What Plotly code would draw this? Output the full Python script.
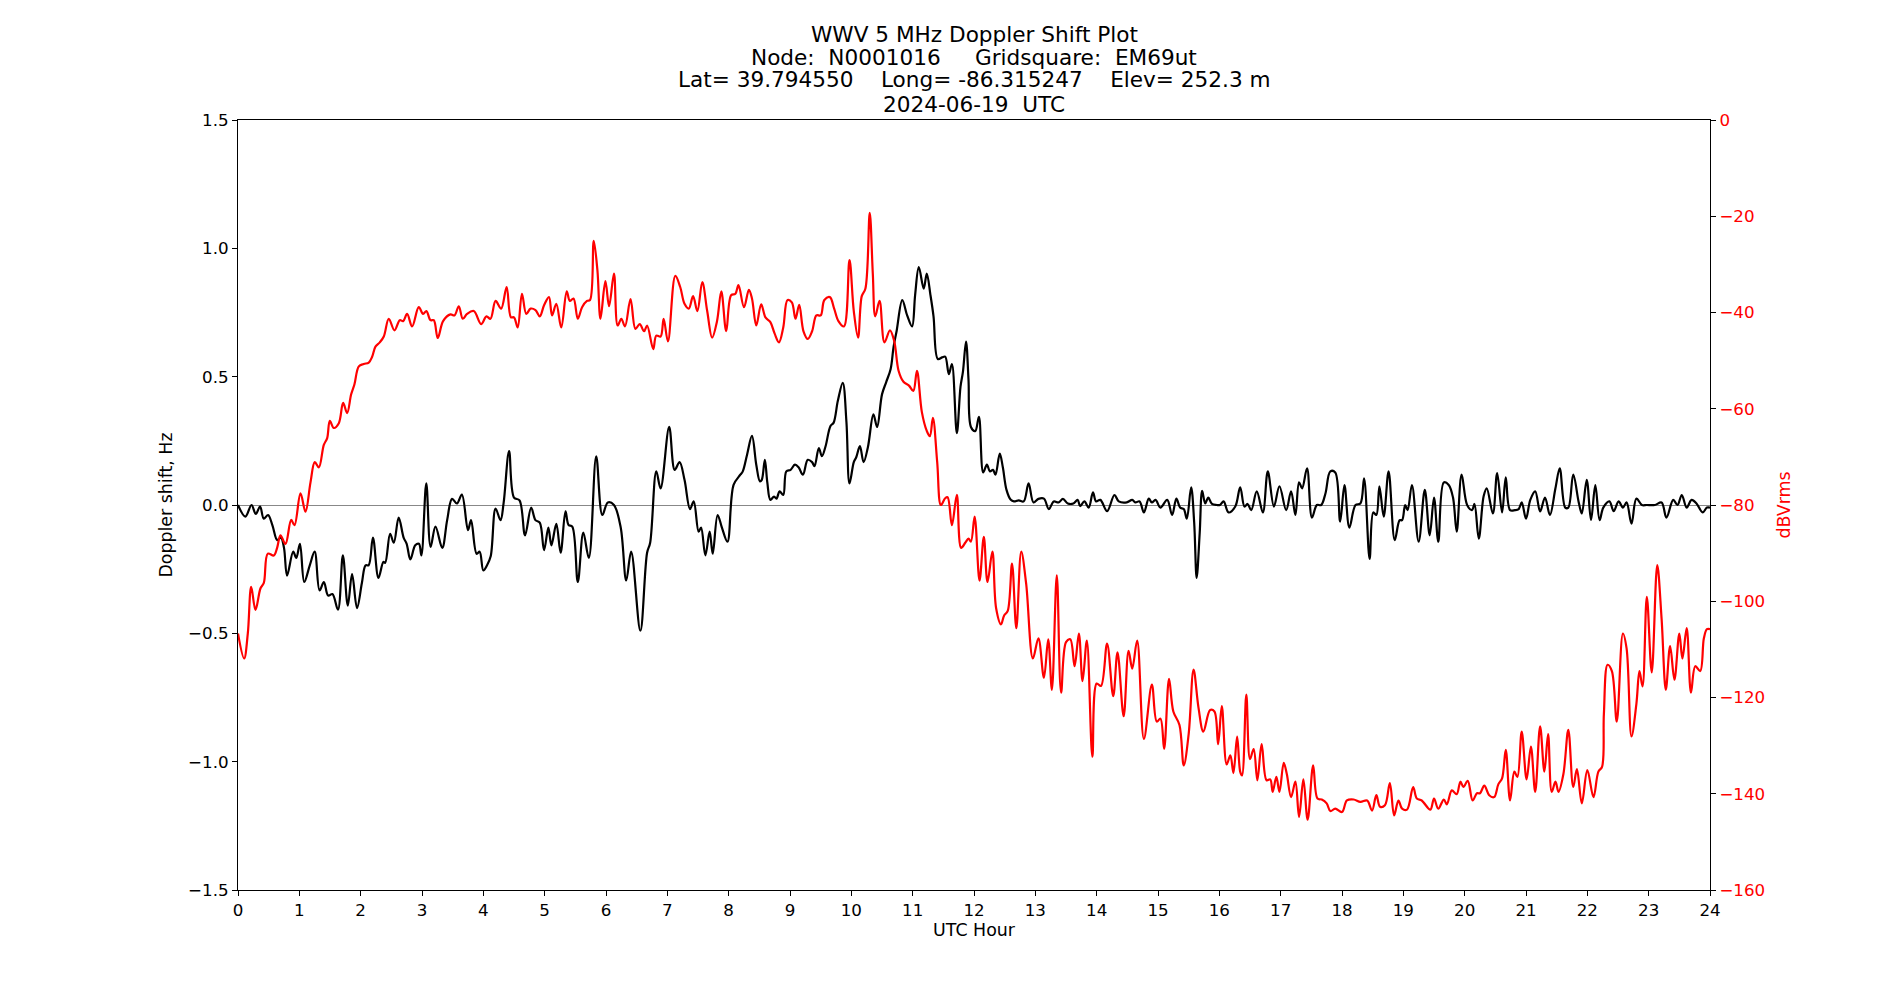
import plotly.graph_objects as go

# ---- Doppler shift (Hz) vs UTC hour ----
dop_hours = [0.00,0.12,0.22,0.29,0.36,0.42,0.49,0.56,0.64,0.70,0.75,0.80,0.90,0.95,1.01,1.08,1.17,1.25,1.33,1.40,
             1.47,1.54,1.63,1.71,1.79,1.86,1.94,2.02,2.08,2.13,2.20,2.29,2.37,2.40,2.48,2.54,2.62,2.70,2.75,2.81,
             2.89,2.95,2.99,3.07,3.14,3.22,3.33,3.41,3.49,3.57,3.65,3.75,3.80,3.89,3.94,4.00,4.06,4.12,
             4.20,4.28,4.33,4.42,4.50,4.59,4.68,4.78,4.85,4.92,4.99,5.06,5.11,5.19,5.26,5.34,5.39,5.45,5.54,5.63,
             5.72,5.84,5.94,6.03,6.13,6.24,6.33,6.41,6.56,6.67,6.72,6.82,6.89,7.03,7.12,7.20,7.28,7.37,7.43,7.51,
             7.55,7.62,7.69,7.74,7.82,7.89,7.98,8.08,8.19,
             8.23,8.30,8.38,8.45,8.51,8.54,8.59,8.63,8.68,8.74,8.78,8.83,8.89,8.94,9.01,9.08,9.14,9.21,9.29,9.36,
             9.40,9.47,9.52,9.58,9.66,9.71,9.78,9.86,9.92,9.97,10.04,10.08,10.14,10.20,10.27,10.36,10.42,10.50,10.57,10.64,
             10.69,10.74,10.83,10.91,10.99,11.04,11.10,11.18,11.23,11.29,11.34,11.41,11.48,11.53,11.59,11.64,11.72,11.78,11.82,11.87,
             11.91,11.95,12.02,12.08,
             12.15,12.21,12.26,12.31,12.35,12.42,12.47,12.53,12.60,12.65,12.73,12.81,12.89,12.97,13.05,13.14,13.22,13.30,13.38,13.45,
             13.53,13.62,13.69,13.73,13.80,13.87,13.94,13.99,14.06,14.17,14.29,14.36,14.49,14.58,14.63,14.70,14.77,14.85,14.90,14.96,
             15.04,15.15,15.23,15.30,15.36,15.42,15.47,15.54,15.59,15.63,15.68,15.72,15.77,15.82,15.88,15.96,16.01,16.07,16.15,
             16.26,16.34,16.41,16.46,16.52,16.61,16.71,16.79,16.89,16.98,17.09,17.17,17.24,17.30,17.35,17.43,17.51,17.59,17.66,17.73,
             17.81,17.89,17.97,18.04,18.12,18.22,18.30,18.36,18.45,18.51,18.56,18.61,18.68,18.76,18.86,18.94,18.98,19.03,19.07,19.14,
             19.25,19.35,19.43,19.50,19.57,19.66,19.74,19.81,19.87,19.95,20.04,20.12,20.16,20.23,20.31,20.36,20.46,20.53,20.61,20.67,
             20.74,20.82,20.88,20.93,21.00,21.07,21.15,21.23,21.31,21.39,21.48,21.55,21.64,21.69,21.77,21.86,21.91,21.99,22.06,22.13,
             22.20,22.26,22.36,22.43,22.51,22.58,22.64,22.72,22.80,22.89,22.97,23.10,23.21,23.29,23.40,23.47,23.54,23.62,23.70,23.78,
             23.88,23.95,24.00]
dop_hz = [0.0,-0.045,0.0,-0.035,-0.006,-0.053,-0.039,-0.078,-0.137,-0.127,-0.167,-0.275,-0.182,-0.206,-0.151,-0.30,-0.235,-0.182,-0.333,-0.30,
          -0.353,-0.347,-0.408,-0.196,-0.392,-0.269,-0.402,-0.304,-0.235,-0.235,-0.127,-0.284,-0.222,-0.225,-0.112,-0.147,-0.049,-0.127,-0.151,-0.212,
          -0.157,-0.151,-0.196,0.084,-0.163,-0.084,-0.167,-0.059,0.024,0.006,0.041,-0.098,-0.059,-0.19,-0.182,-0.255,-0.235,-0.20,
          -0.014,-0.059,0.006,0.21,0.029,0.018,-0.118,-0.01,-0.059,-0.069,-0.176,-0.088,-0.157,-0.073,-0.186,-0.025,-0.078,-0.084,-0.30,-0.108,
          -0.206,0.19,-0.039,0.01,0.0,-0.088,-0.294,-0.182,-0.49,-0.186,-0.147,0.131,0.065,0.304,0.137,0.167,0.098,-0.016,0.014,-0.104,
          -0.088,-0.196,-0.104,-0.19,-0.039,-0.088,-0.143,0.078,0.118,
          0.131,0.196,0.269,0.157,0.092,0.098,0.176,0.088,0.02,0.033,0.025,0.053,0.039,0.131,0.137,0.157,0.147,0.118,0.176,0.167,
          0.151,0.222,0.19,0.229,0.308,0.32,0.406,0.476,0.324,0.084,0.167,0.186,0.229,0.167,0.225,0.353,0.304,0.431,0.48,0.529,
          0.618,0.68,0.798,0.739,0.696,0.818,0.927,0.843,0.902,0.818,0.735,0.569,0.575,0.578,0.51,0.549,0.28,0.461,0.52,0.637,
          0.49,0.304,0.288,0.343,
          0.127,0.157,0.131,0.137,0.118,0.2,0.147,0.059,0.02,0.014,0.018,0.014,0.084,0.01,0.024,0.025,-0.016,0.014,0.01,0.024,
          0.006,0.006,0.02,-0.004,0.014,-0.01,0.049,0.014,0.02,-0.024,0.039,0.014,0.01,0.02,0.01,0.014,-0.029,0.025,0.01,0.02,
          -0.01,0.02,-0.039,0.025,-0.01,-0.016,-0.053,0.069,-0.069,-0.284,-0.108,0.055,0.006,0.029,0.004,0.0,0.0,0.014,-0.029,
          -0.006,0.069,-0.006,0.004,-0.02,0.053,-0.029,0.131,-0.006,0.073,-0.02,0.053,-0.039,0.088,0.065,0.143,-0.049,0.0,0.0,0.045,
          0.131,0.127,-0.065,0.078,-0.088,0.0,0.006,0.104,-0.21,-0.029,-0.039,0.073,-0.045,0.131,-0.137,-0.059,-0.059,0.0,-0.02,0.078,
          -0.143,0.059,-0.118,0.029,-0.143,0.088,0.078,0.029,-0.104,0.118,0.0,-0.02,0.004,-0.131,0.035,0.065,-0.033,0.124,-0.029,0.108,
          -0.02,-0.02,-0.016,0.01,-0.053,0.02,0.053,-0.025,0.029,-0.039,0.065,0.143,-0.01,-0.01,0.118,0.01,-0.033,0.098,-0.059,0.078,
          -0.059,-0.01,0.014,-0.024,0.014,-0.01,0.01,-0.073,0.025,0.0,0.0,0.0,0.01,-0.049,0.02,0.0,0.039,-0.01,0.02,0.006,
          -0.029,-0.01,-0.01]

# ---- Signal level (dBVrms) vs UTC hour ----
db_hours = [0.00,0.10,0.16,0.215,0.285,0.367,0.421,0.486,0.584,0.638,0.693,0.774,0.867,0.921,1.019,1.10,1.182,1.252,1.318,1.399,
            1.454,1.497,1.562,1.644,1.714,1.779,1.845,1.899,1.97,2.051,2.132,2.187,2.241,2.312,2.377,2.458,2.551,2.638,2.692,2.757,
            2.839,2.947,3.018,3.072,3.138,3.192,3.257,3.344,3.464,3.529,3.60,3.665,3.735,3.844,3.964,4.051,4.116,
            4.20,4.29,4.38,4.45,4.50,4.56,4.63,4.70,4.77,4.85,4.92,4.99,5.07,5.12,5.19,5.27,5.36,5.41,5.47,5.54,
            5.61,5.69,5.74,5.80,5.86,5.91,5.99,6.05,6.13,6.19,6.25,6.31,6.40,6.48,6.55,6.62,6.67,6.77,6.82,6.89,
            6.94,7.01,7.13,7.21,7.28,7.35,7.42,7.49,7.57,7.65,7.73,7.81,7.88,7.96,8.04,8.11,8.16,
            8.25,8.33,8.38,8.45,8.53,8.60,8.68,8.75,8.82,8.89,8.96,9.03,9.09,9.15,9.22,9.29,9.36,9.43,9.50,9.56,
            9.65,9.72,9.79,9.88,9.97,10.04,10.11,10.17,10.23,10.30,10.35,10.39,10.46,10.54,10.63,10.70,10.77,10.85,10.94,11.01,
            11.07,11.15,11.23,11.28,11.33,11.40,11.46,11.53,11.57,11.64,11.72,11.79,11.86,11.91,11.95,12.01,12.09,12.16,12.22,
            12.30,12.36,12.44,12.49,12.55,12.62,12.69,12.77,12.85,12.96,13.05,13.14,13.21,13.27,13.35,13.42,13.50,13.57,13.64,13.71,
            13.77,13.84,13.93,14.00,14.07,14.17,14.27,14.34,14.44,14.52,14.58,14.66,14.77,14.90,14.98,15.04,15.10,15.18,15.25,15.35,
            15.42,15.50,15.58,15.66,15.74,15.85,15.92,15.98,16.04,16.12,16.18,16.23,16.29,16.34,
            16.37,16.44,16.50,16.56,16.62,16.69,16.77,16.83,16.87,16.93,16.98,17.05,17.10,17.17,17.24,17.30,17.37,17.44,17.53,17.60,
            17.67,17.75,17.81,17.89,18.00,18.08,18.19,18.30,18.41,18.49,18.56,18.62,18.70,18.78,18.85,18.92,18.98,19.06,19.16,19.22,
            19.30,19.44,19.50,19.57,19.66,19.71,19.79,19.87,19.93,19.98,20.05,20.13,20.20,20.25,20.32,
            20.40,20.48,20.55,20.61,20.67,20.74,20.81,20.86,20.93,21.01,21.08,21.15,21.23,21.30,21.36,21.42,21.48,21.53,21.61,21.69,
            21.77,21.83,21.91,22.00,22.10,22.18,22.24,22.27,22.33,22.40,22.48,22.58,22.64,22.72,22.80,22.85,22.90,22.97,23.05,23.14,
            23.21,23.28,23.35,23.42,23.50,23.55,23.62,23.69,23.76,23.84,23.90,23.95,24.00]
db_vrms = [-106.7,-111.9,-106.7,-97.0,-101.8,-97.3,-96.2,-90.1,-90.5,-88.9,-86.3,-88.1,-83.1,-84.2,-77.6,-81.4,-75.3,-71.1,-72.2,-67.5,
           -66.1,-62.5,-64.0,-63.0,-58.8,-60.9,-57.0,-54.9,-51.2,-50.7,-50.4,-49.2,-47.1,-46.2,-45.0,-41.3,-43.7,-41.6,-41.8,-40.3,
           -42.9,-38.9,-40.3,-39.7,-41.6,-41.6,-45.3,-41.8,-40.4,-40.6,-38.7,-41.3,-40.3,-39.7,-42.4,-40.8,-41.3,
           -37.6,-39.2,-34.7,-41.0,-41.0,-43.1,-36.1,-40.3,-39.2,-39.5,-40.8,-38.5,-36.8,-40.6,-38.2,-43.1,-35.6,-37.6,-37.1,-41.3,
           -38.9,-37.6,-37.4,-25.1,-31.2,-41.3,-33.5,-38.7,-31.9,-42.7,-41.3,-42.9,-37.2,-43.4,-42.4,-43.9,-42.7,-47.6,-44.8,-45.0,
           -41.3,-46.0,-32.4,-34.7,-38.2,-39.2,-36.6,-39.7,-33.7,-39.7,-45.2,-41.8,-35.6,-43.9,-36.4,-36.1,-34.3,
           -38.9,-35.3,-37.1,-42.7,-38.3,-41.0,-42.0,-44.4,-46.2,-43.1,-37.4,-37.9,-41.3,-38.4,-43.9,-45.5,-43.9,-40.6,-40.6,-37.4,
           -36.8,-39.2,-41.8,-42.9,-29.1,-39.7,-45.2,-36.6,-35.0,-19.3,-31.9,-40.8,-37.6,-46.2,-43.7,-46.0,-52.1,-54.4,-55.2,-56.3,
           -52.1,-60.7,-64.6,-65.7,-61.9,-71.1,-80.0,-78.6,-78.4,-84.2,-77.9,-88.9,-87.8,-87.0,-87.6,-82.4,-95.7,-86.6,-96.0,
           -89.7,-101.4,-104.8,-103.0,-102.0,-92.2,-105.6,-89.7,-96.3,-111.9,-107.7,-115.9,-107.9,-118.4,-94.6,-119.0,-108.5,-107.9,-113.5,-106.7,
           -116.6,-108.2,-132.3,-117.1,-117.6,-108.8,-119.7,-110.6,-123.9,-110.3,-114.0,-108.2,-128.6,-117.3,-125.0,-124.4,-130.7,-116.1,-122.9,-125.7,
           -134.1,-127.6,-114.2,-122.1,-127.1,-122.6,-122.9,-129.7,-121.8,-133.9,-132.0,-135.7,-128.1,-135.4,
           -136.2,-119.4,-132.8,-130.7,-137.2,-129.7,-137.2,-137.0,-139.6,-136.5,-139.6,-133.6,-135.9,-140.7,-137.5,-144.8,-137.0,-145.4,-134.1,-141.0,
           -141.2,-142.0,-143.6,-143.1,-143.8,-141.4,-141.2,-141.7,-141.4,-143.5,-140.3,-142.7,-142.4,-137.8,-144.5,-141.4,-143.1,-143.3,-138.6,-141.0,
           -141.4,-143.3,-141.0,-143.1,-141.2,-142.2,-139.3,-140.1,-137.5,-138.6,-137.3,-141.4,-139.9,-139.9,-138.3,
           -140.3,-140.7,-138.0,-136.8,-130.9,-141.4,-135.4,-136.5,-127.1,-137.0,-130.2,-139.6,-126.0,-135.4,-127.6,-139.6,-137.5,-139.6,-135.9,-126.7,
           -138.6,-134.9,-142.0,-135.1,-140.7,-135.4,-134.4,-123.4,-113.2,-114.5,-125.0,-106.7,-109.8,-128.1,-121.3,-114.5,-117.7,-99.1,-114.8,-92.5,
           -103.5,-118.4,-109.3,-116.3,-106.7,-111.9,-105.6,-119.0,-113.5,-114.5,-107.7,-105.8,-105.8]

x_ticks = list(range(0, 25))
y_ticks = [-1.5, -1.0, -0.5, 0.0, 0.5, 1.0, 1.5]
y2_ticks = [0, -20, -40, -60, -80, -100, -120, -140, -160]

title_lines = ["WWV 5 MHz Doppler Shift Plot",
               "Node:  N0001016     Gridsquare:  EM69ut",
               "Lat= 39.794550    Long= -86.315247    Elev= 252.3 m",
               "2024-06-19  UTC"]

FONT = "DejaVu Sans"
TICK = 16.7
LABEL = 17.4
TITLE = 21.6

def fmt(v, nd):
    s = f"{abs(v):.{nd}f}"
    return ("\u2212" + s) if v < 0 else s

fig = go.Figure()
fig.add_trace(go.Scatter(x=dop_hours, y=dop_hz, mode="lines",
                         line=dict(color="black", width=2.2, shape="spline", smoothing=1.0),
                         yaxis="y", showlegend=False, hoverinfo="skip"))
fig.add_trace(go.Scatter(x=db_hours, y=db_vrms, mode="lines",
                         line=dict(color="red", width=2.2, shape="spline", smoothing=1.0),
                         yaxis="y2", showlegend=False, hoverinfo="skip"))

L, R, T, B = 237.5, 190, 120, 110
ph = 1000 - T - B
annotations = []
title_y_px = [35, 57, 80, 104]
for line, ypx in zip(title_lines, title_y_px):
    annotations.append(dict(text=line, xref="paper", yref="paper", x=0.5, y=(1000 - B - ypx) / ph,
                            xanchor="center", yanchor="middle", showarrow=False,
                            font=dict(family=FONT, size=TITLE, color="black")))

fig.update_layout(
    width=1900, height=1000,
    margin=dict(l=L, r=R, t=T, b=B, pad=0),
    paper_bgcolor="white", plot_bgcolor="white",
    font=dict(family=FONT, size=TICK, color="black"),
    annotations=annotations,
    xaxis=dict(range=[0, 24], tickvals=x_ticks, ticktext=[str(v) for v in x_ticks],
               ticks="outside", ticklen=5, tickwidth=1.1, tickcolor="black",
               showline=True, linecolor="black", linewidth=1.1, mirror=True,
               showgrid=False, zeroline=False,
               title=dict(text="UTC Hour", standoff=4, font=dict(size=LABEL))),
    yaxis=dict(range=[-1.5, 1.5], tickvals=y_ticks, ticktext=[fmt(v, 1) for v in y_ticks],
               ticks="outside", ticklen=5, tickwidth=1.1, tickcolor="black",
               showline=True, linecolor="black", linewidth=1.1, mirror=True,
               showgrid=False, zeroline=True, zerolinecolor="#888888", zerolinewidth=1.2,
               title=dict(text="Doppler shift, Hz", standoff=10, font=dict(size=LABEL))),
    yaxis2=dict(range=[-160, 0], tickvals=y2_ticks, ticktext=[fmt(v, 0) for v in y2_ticks],
                overlaying="y", side="right", anchor="x",
                ticks="outside", ticklen=5, tickwidth=1.1, tickcolor="black",
                tickfont=dict(color="red", size=TICK),
                showline=True, linecolor="black", linewidth=1.1,
                showgrid=False, zeroline=False,
                title=dict(text="dBVrms", standoff=13, font=dict(size=LABEL, color="red"))),
)

fig.write_html("out.html")
